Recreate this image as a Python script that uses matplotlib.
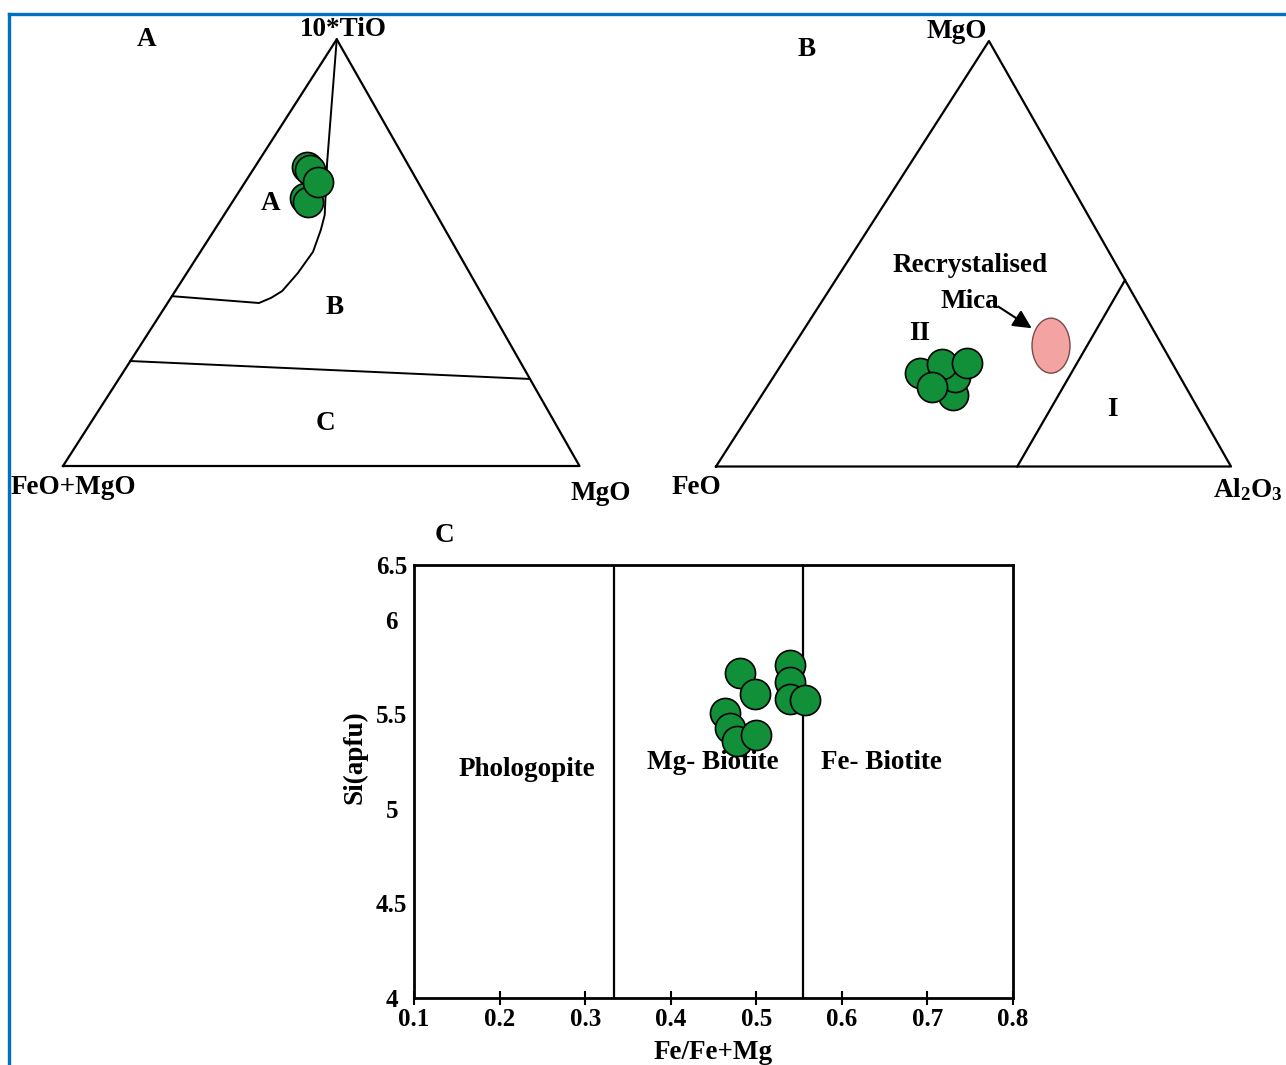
import numpy as np
import matplotlib
matplotlib.use('Agg')
import matplotlib.pyplot as plt
from matplotlib.patches import Ellipse
from matplotlib.lines import Line2D

plt.rcParams['font.family'] = ['Liberation Serif', 'DejaVu Serif']
plt.rcParams['font.weight'] = 'bold'
plt.rcParams['axes.labelweight'] = 'bold'
plt.rcParams['mathtext.fontset'] = 'custom'
plt.rcParams['mathtext.rm'] = 'Liberation Serif:bold'
plt.rcParams['mathtext.it'] = 'Liberation Serif:bold'
plt.rcParams['mathtext.bf'] = 'Liberation Serif:bold'

W, H = 1286, 1065
APEX = 0.53          # apex of the hand drawn triangles sits a bit right of centre
GREEN = '#129039'

# ---- diagram A : 10*TiO (top) - FeO+MgO (left) - MgO (right), fractions ----
a_tio = [0.627, 0.619, 0.701, 0.694, 0.666]
a_mgo = [0.136, 0.147, 0.100, 0.110, 0.141]
# field boundaries
ab_tio = [1.0, 0.710, 0.588, 0.553, 0.502, 0.452, 0.410, 0.394, 0.382, 0.398]
ab_mgo = [0.0, 0.135, 0.195, 0.206, 0.218, 0.215, 0.207, 0.194, 0.177, 0.0]
bc_tio = [0.246, 0.204]
bc_mgo = [0.0, 0.796]

# ---- diagram B : MgO (top) - FeO (left) - Al2O3 (right), fractions ----
b_mgo = [0.168, 0.211, 0.219, 0.241, 0.243, 0.186]
b_al = [0.371, 0.352, 0.280, 0.311, 0.358, 0.320]
mica_mgo, mica_al = 0.284, 0.500
fieldI_mgo = [0.438, 0.0]
fieldI_al = [0.562, 0.585]

# ---- diagram C : Fe/(Fe+Mg) vs Si (apfu) ----
c_fe = [0.481, 0.499, 0.464, 0.469, 0.478, 0.500, 0.539, 0.539, 0.539, 0.557]
c_si = [5.72, 5.61, 5.505, 5.43, 5.36, 5.39, 5.76, 5.67, 5.58, 5.575]
fe_bounds = [0.334, 0.555]
x_ticks = [0.1, 0.2, 0.3, 0.4, 0.5, 0.6, 0.7, 0.8]
y_ticks = [4, 4.5, 5, 5.5, 6]


def tern(top, right):
    top = np.asarray(top, float)
    right = np.asarray(right, float)
    return right + APEX * top, top


def px(x, y):
    return x / W, 1 - y / H


fig = plt.figure(figsize=(W / 100, H / 100), dpi=100)

# blue frame
fig.add_artist(Line2D([9 / W, 1], [1 - 14 / H] * 2, color='#0070c0', lw=2.4))
fig.add_artist(Line2D([9 / W] * 2, [0, 1 - 14 / H], color='#0070c0', lw=2.4))

FS = 19.5
mk = dict(s=470, c=GREEN, edgecolors='black', linewidths=1.2, zorder=5, clip_on=False)

# ---------------- A ----------------
ax_a = fig.add_axes([63 / W, 1 - 466 / H, 516.5 / W, 426.7 / H])
ax_a.set_xlim(0, 1)
ax_a.set_ylim(0, 1)
ax_a.axis('off')
x, y = tern([0, 1, 0, 0], [0, 0, 1, 0])
ax_a.plot(x, y, color='black', lw=1.6, clip_on=False)
x, y = tern(ab_tio, ab_mgo)
ax_a.plot(x, y, color='black', lw=1.4, clip_on=False)
x, y = tern(bc_tio, bc_mgo)
ax_a.plot(x, y, color='black', lw=1.4, clip_on=False)
x, y = tern(a_tio, a_mgo)
ax_a.scatter(x, y, **mk)

fig.text(*px(147, 40), 'A', fontsize=FS, ha='center', va='center')
fig.text(*px(343, 30), '10*TiO', fontsize=FS, ha='center', va='center')
fig.text(*px(271, 203), 'A', fontsize=FS, ha='center', va='center')
fig.text(*px(335, 308), 'B', fontsize=FS, ha='center', va='center')
fig.text(*px(325, 423), 'C', fontsize=FS, ha='center', va='center')
fig.text(*px(73, 487), 'FeO+MgO', fontsize=FS, ha='center', va='center')
fig.text(*px(601, 493), 'MgO', fontsize=FS, ha='center', va='center')

# ---------------- B ----------------
ax_b = fig.add_axes([716 / W, 1 - 466.5 / H, 515 / W, 425.5 / H])
ax_b.set_xlim(0, 1)
ax_b.set_ylim(0, 1)
ax_b.axis('off')
x, y = tern([0, 1, 0, 0], [0, 0, 1, 0])
ax_b.plot(x, y, color='black', lw=1.6, clip_on=False)
x, y = tern(fieldI_mgo, fieldI_al)
ax_b.plot(x, y, color='black', lw=1.6, clip_on=False)
mx, my = tern(mica_mgo, mica_al)
ax_b.add_patch(Ellipse((mx, my), 38 / 515, 55 / 425.5, facecolor='#f4a3a3',
                       edgecolor='#7a4a4a', lw=1.0, zorder=4))
x, y = tern(b_mgo, b_al)
ax_b.scatter(x, y, **mk)
ax_b.annotate('', xy=(0.613, 0.325), xytext=(0.548, 0.376),
              arrowprops=dict(arrowstyle='-|>', color='black', lw=1.5,
                              mutation_scale=28, shrinkA=0, shrinkB=0))

fig.text(*px(807, 50), 'B', fontsize=FS, ha='center', va='center')
fig.text(*px(957, 32), 'MgO', fontsize=FS, ha='center', va='center')
fig.text(*px(970, 265), 'Recrystalised', fontsize=FS, ha='center', va='center')
fig.text(*px(970, 301), 'Mica', fontsize=FS, ha='center', va='center')
fig.text(*px(920, 333), 'II', fontsize=FS, ha='center', va='center')
fig.text(*px(1112, 410), 'I', fontsize=FS, ha='center', va='center')
fig.text(*px(696, 488), 'FeO', fontsize=FS, ha='center', va='center')
fig.text(*px(1248, 490), r'Al$_2$O$_3$', fontsize=FS, ha='center', va='center')

# ---------------- C ----------------
ax_c = fig.add_axes([414 / W, 1 - 998 / H, 599 / W, 433 / H])
ax_c.set_xlim(0.1, 0.8)
ax_c.set_ylim(4, 6.29)
for s in ax_c.spines.values():
    s.set_linewidth(2)
for b in fe_bounds:
    ax_c.axvline(b, color='black', lw=1.6)
ax_c.scatter(c_fe, c_si, **mk)

ax_c.set_xticks(x_ticks, [f'{v:g}' for v in x_ticks])
ax_c.set_yticks(y_ticks + [6.29], [f'{v:g}' for v in y_ticks] + ['6.5'])
ax_c.tick_params(axis='x', direction='inout', length=10, width=1.5, pad=2, labelsize=18)
ax_c.tick_params(axis='y', length=0, pad=16, labelsize=18)
for lab in ax_c.get_yticklabels():
    lab.set_horizontalalignment('center')
ax_c.set_xlabel('Fe/Fe+Mg', fontsize=FS, labelpad=7)
ax_c.set_ylabel('Si(apfu)', fontsize=FS)
ax_c.yaxis.set_label_coords(-0.078, 0.557)

ax_c.text(0.189, 0.527, 'Phologopite', transform=ax_c.transAxes, fontsize=FS, ha='center', va='center')
ax_c.text(0.499, 0.543, 'Mg- Biotite', transform=ax_c.transAxes, fontsize=FS, ha='center', va='center')
ax_c.text(0.781, 0.543, 'Fe- Biotite', transform=ax_c.transAxes, fontsize=FS, ha='center', va='center')
fig.text(*px(444, 535), 'C', fontsize=FS, ha='center', va='center')

fig.savefig('out.png', dpi=100)
